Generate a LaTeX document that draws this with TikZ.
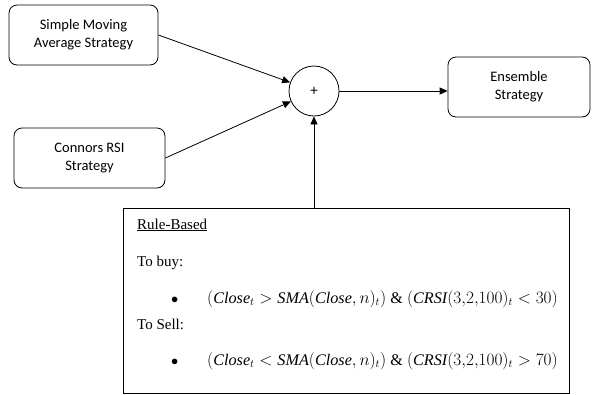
\documentclass[tikz,border=0pt]{standalone}
\usepackage{fontspec}
\setmainfont{Liberation Serif}
\newfontfamily\boxfont{Carlito}
\usetikzlibrary{arrows.meta}
\tikzset{
  stratbox/.style={draw, thick, rounded corners=8pt, align=center, font=\boxfont\fontsize{14.5}{18}\selectfont, inner sep=0pt},
  conn/.style={thick, -{Triangle[length=8pt,width=7pt]}},
  ruletext/.style={anchor=base west, inner sep=0pt, font=\fontsize{15}{18}\selectfont},
  formula/.style={anchor=base west, inner sep=0pt, font=\fontsize{16.2}{18}\selectfont},
}
\begin{document}
\begin{tikzpicture}[x=1pt,y=-1pt]
\useasboundingbox (0,0) rectangle (593,394);
\node[stratbox, minimum width=149pt, minimum height=60pt] (sma) at (83.5,35) {Simple Moving\\Average Strategy};
\node[stratbox, minimum width=151pt, minimum height=60pt] (crsi) at (89.5,158) {Connors RSI\\Strategy};
\node[draw, thick, circle, minimum size=50pt, inner sep=0pt, font=\boxfont\fontsize{15}{16}\selectfont] (plus) at (314,91) {+};
\node[stratbox, minimum width=142pt, minimum height=60pt] (ens) at (519,87) {Ensemble\\Strategy};
\node[draw, thick, minimum width=446pt, minimum height=185pt, inner sep=0pt] (rule) at (346,300.5) {};
\node[ruletext] (rb) at (137,229) {\underline{Rule-Based}};
\node[ruletext] (buy) at (137,266) {To buy:};
\node[ruletext] (b1) at (171,303) {$\bullet$};
\node[formula] (f1) at (207,303) {$(\mathit{Close}_t > \mathit{SMA}(\mathit{Close},n)_t)$ \& $(\mathit{CRSI}(3{,}2{,}100)_t < 30)$};
\node[ruletext] (sell) at (137,329) {To Sell:};
\node[ruletext] (b2) at (171,365) {$\bullet$};
\node[formula] (f2) at (207,365) {$(\mathit{Close}_t < \mathit{SMA}(\mathit{Close},n)_t)$ \& $(\mathit{CRSI}(3{,}2{,}100)_t > 70)$};
\draw[conn] (sma.east) -- (plus);
\draw[conn] (crsi.east) -- (plus);
\draw[conn] (plus) -- (plus -| ens.west);
\draw[conn] (plus |- rule.north) -- (plus);
\end{tikzpicture}
\end{document}
